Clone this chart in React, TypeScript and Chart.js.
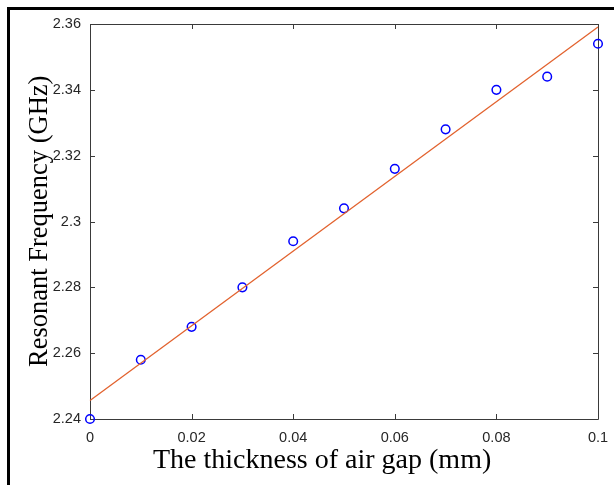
import React, { useEffect, useRef } from "react";
import { Chart, registerables } from "chart.js";

Chart.register(...registerables);

// Measured data (air gap thickness in mm vs resonant frequency in GHz)
const gapThickness = [0, 0.01, 0.02, 0.03, 0.04, 0.05, 0.06, 0.07, 0.08, 0.09, 0.1];
const resonantFreq = [2.24, 2.258, 2.268, 2.28, 2.294, 2.304, 2.316, 2.328, 2.34, 2.344, 2.354];

// Linear fit line endpoints
const fitX = [0, 0.1];
const fitY = [2.2456, 2.3591];

const xTitle = "The thickness of air gap (mm)";
const yTitle = "Resonant Frequency (GHz)";

const fmt = (v: number) => String(parseFloat(Number(v).toFixed(3)));

const axesPlugin = {
  id: "matlabAxes",
  beforeDatasetsDraw(chart: any) {
    const { ctx, chartArea: a, scales } = chart;
    const xs = scales.x;
    const ys = scales.y;
    ctx.save();
    ctx.strokeStyle = "#3a3a3a";
    ctx.lineWidth = 1;
    ctx.beginPath();
    ctx.rect(a.left + 0.5, a.top + 0.5, a.right - a.left, a.bottom - a.top);
    ctx.stroke();
    const tl = 5;
    ctx.beginPath();
    xs.ticks.forEach((t: any) => {
      const px = Math.round(xs.getPixelForValue(t.value)) + 0.5;
      ctx.moveTo(px, a.bottom);
      ctx.lineTo(px, a.bottom - tl);
      ctx.moveTo(px, a.top);
      ctx.lineTo(px, a.top + tl);
    });
    ys.ticks.forEach((t: any) => {
      const py = Math.round(ys.getPixelForValue(t.value)) + 0.5;
      ctx.moveTo(a.left, py);
      ctx.lineTo(a.left + tl, py);
      ctx.moveTo(a.right, py);
      ctx.lineTo(a.right - tl, py);
    });
    ctx.stroke();
    ctx.restore();
  },
  afterDraw(chart: any) {
    const { ctx } = chart;
    ctx.save();
    ctx.fillStyle = "#000000";
    ctx.font = '28px "Liberation Serif", "Times New Roman", serif';
    ctx.textAlign = "left";
    ctx.textBaseline = "alphabetic";
    ctx.fillText(xTitle, 153, 468);
    ctx.translate(47, 367);
    ctx.rotate(-Math.PI / 2);
    ctx.font = '26.5px "Liberation Serif", "Times New Roman", serif';
    ctx.fillText(yTitle, 0, 0);
    ctx.restore();
  },
};

export default function App() {
  const ref = useRef<HTMLCanvasElement | null>(null);

  useEffect(() => {
    if (!ref.current) return;
    const tickFont = { family: '"Liberation Sans", Arial, sans-serif', size: 14.5 };
    const chart = new Chart(ref.current, {
      type: "scatter",
      data: {
        datasets: [
          {
            type: "line",
            data: fitX.map((x, i) => ({ x, y: fitY[i] })),
            borderColor: "#E2622E",
            borderWidth: 1.3,
            pointRadius: 0,
            fill: false,
            clip: false as any,
          },
          {
            type: "scatter",
            data: gapThickness.map((x, i) => ({ x, y: resonantFreq[i] })),
            borderColor: "#0000FF",
            backgroundColor: "rgba(0,0,0,0)",
            borderWidth: 1.5,
            pointRadius: 4.3,
            pointHoverRadius: 4.3,
            clip: false as any,
          },
        ],
      },
      options: {
        responsive: false,
        animation: false,
        devicePixelRatio: 1,
        layout: { padding: { left: 0, right: 16, top: 24, bottom: 0 } },
        plugins: { legend: { display: false }, tooltip: { enabled: false } },
        scales: {
          x: {
            type: "linear",
            min: 0,
            max: 0.1,
            grid: { display: false, drawTicks: false },
            border: { display: false },
            ticks: {
              stepSize: 0.02,
              padding: 10,
              color: "#262626",
              font: tickFont,
              maxRotation: 0,
              callback: (v: any) => fmt(v),
            },
            afterFit: (s: any) => {
              s.height = 66;
              s.paddingLeft = 0;
              s.paddingRight = 0;
            },
          },
          y: {
            type: "linear",
            min: 2.24,
            max: 2.36,
            grid: { display: false, drawTicks: false },
            border: { display: false },
            ticks: {
              stepSize: 0.02,
              padding: 9,
              color: "#262626",
              font: tickFont,
              callback: (v: any) => fmt(v),
            },
            afterFit: (s: any) => {
              s.width = 90;
              s.paddingTop = 0;
              s.paddingBottom = 0;
            },
          },
        },
      },
      plugins: [axesPlugin],
    });
    return () => chart.destroy();
  }, []);

  return (
    <div
      style={{
        position: "fixed",
        left: 0,
        top: 0,
        width: 614,
        height: 485,
        background: "#ffffff",
        overflow: "hidden",
      }}
    >
      <canvas
        ref={ref}
        width={614}
        height={485}
        style={{ position: "absolute", left: 0, top: 0, width: 614, height: 485 }}
      />
      <div
        style={{
          position: "absolute",
          left: 7,
          top: 7,
          width: 614,
          height: 485,
          borderTop: "3px solid #000",
          borderLeft: "3px solid #000",
          boxSizing: "border-box",
          pointerEvents: "none",
        }}
      />
    </div>
  );
}
